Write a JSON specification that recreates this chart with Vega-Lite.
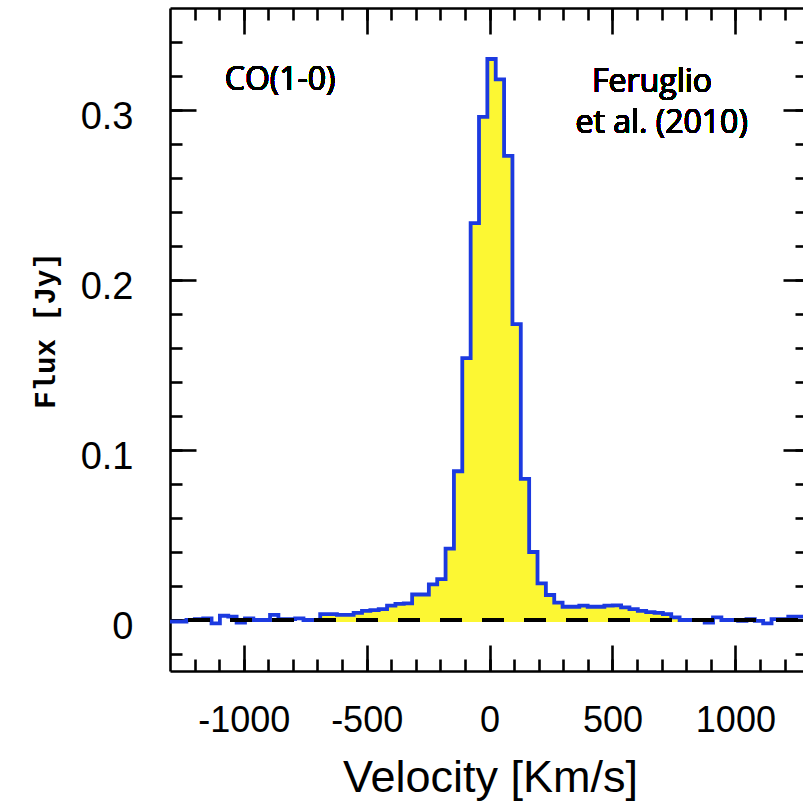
{
  "$schema": "https://vega.github.io/schema/vega-lite/v6.json",
  "autosize": {"type": "none"},
  "padding": {"left": 170, "top": 8, "right": 0, "bottom": 137},
  "width": 633,
  "height": 663,
  "background": "white",
  "config": {
    "view": {"stroke": null},
    "axis": {
      "grid": false,
      "domainColor": "black",
      "domainWidth": 2.6,
      "tickColor": "black",
      "tickWidth": 2.6,
      "labelColor": "black",
      "titleColor": "black",
      "labelFont": "Liberation Sans",
      "labelFontSize": 36,
      "labelFontWeight": "normal",
      "titleFontWeight": "normal"
    }
  },
  "data": {
    "values": [
      {"v": -1335, "f": -0.001}, {"v": -1301, "f": -0.001}, {"v": -1267, "f": -0.001},
      {"v": -1233, "f": 0.0}, {"v": -1199, "f": 0.0005}, {"v": -1165, "f": 0.001},
      {"v": -1131, "f": -0.002}, {"v": -1097, "f": 0.0025}, {"v": -1063, "f": 0.002},
      {"v": -1029, "f": -0.0015}, {"v": -995, "f": 0.001}, {"v": -961, "f": 0.0},
      {"v": -927, "f": 0.0}, {"v": -893, "f": 0.003}, {"v": -859, "f": 0.0005},
      {"v": -825, "f": 0.0005}, {"v": -791, "f": 0.001}, {"v": -757, "f": 0.0},
      {"v": -723, "f": 0.0}, {"v": -689, "f": 0.0035}, {"v": -655, "f": 0.0035},
      {"v": -621, "f": 0.003}, {"v": -587, "f": 0.003}, {"v": -553, "f": 0.0042},
      {"v": -519, "f": 0.0054}, {"v": -485, "f": 0.0058}, {"v": -451, "f": 0.0064},
      {"v": -417, "f": 0.0084}, {"v": -383, "f": 0.0095}, {"v": -349, "f": 0.0098},
      {"v": -315, "f": 0.015}, {"v": -281, "f": 0.015}, {"v": -247, "f": 0.021},
      {"v": -213, "f": 0.024}, {"v": -179, "f": 0.042}, {"v": -145, "f": 0.0875},
      {"v": -111, "f": 0.154}, {"v": -77, "f": 0.2335}, {"v": -43, "f": 0.296},
      {"v": -9, "f": 0.33}, {"v": 25, "f": 0.318}, {"v": 59, "f": 0.273},
      {"v": 93, "f": 0.174}, {"v": 127, "f": 0.083}, {"v": 161, "f": 0.04},
      {"v": 195, "f": 0.0215}, {"v": 229, "f": 0.0147}, {"v": 263, "f": 0.0102},
      {"v": 297, "f": 0.0078}, {"v": 331, "f": 0.0078}, {"v": 365, "f": 0.0084},
      {"v": 399, "f": 0.0078}, {"v": 433, "f": 0.0078}, {"v": 467, "f": 0.0084},
      {"v": 501, "f": 0.0086}, {"v": 535, "f": 0.0074}, {"v": 569, "f": 0.0064},
      {"v": 603, "f": 0.0054}, {"v": 637, "f": 0.0046}, {"v": 671, "f": 0.0042},
      {"v": 705, "f": 0.0035}, {"v": 739, "f": 0.0015}, {"v": 773, "f": 0.0},
      {"v": 807, "f": 0.0}, {"v": 841, "f": 0.0}, {"v": 875, "f": -0.0015},
      {"v": 909, "f": 0.0015}, {"v": 943, "f": 0.0}, {"v": 977, "f": 0.0},
      {"v": 1011, "f": -0.0005}, {"v": 1045, "f": 0.0005}, {"v": 1079, "f": -0.0005},
      {"v": 1113, "f": -0.002}, {"v": 1147, "f": 0.0005}, {"v": 1181, "f": 0.0005},
      {"v": 1215, "f": 0.002}, {"v": 1249, "f": 0.002}, {"v": 1283, "f": 0.002}
    ]
  },
  "resolve": {"axis": {"x": "independent", "y": "independent"}},
  "layer": [
    {
      "transform": [{"filter": "datum.v >= -689 && datum.v <= 773"}],
      "mark": {"type": "area", "interpolate": "step-after", "color": "#fcf733", "clip": true},
      "encoding": {
        "x": {
          "field": "v", "type": "quantitative",
          "scale": {"domain": [-1300, 1275], "nice": false, "zero": false},
          "axis": {
            "orient": "bottom", "values": [-1000, -500, 0, 500, 1000],
            "labelExpr": "datum.value + ''",
            "ticks": false, "domain": true, "labels": true,
            "labelBaseline": "middle", "labelPadding": 49, "labelFlush": false,
            "title": "Velocity [Km/s]", "titleFont": "Liberation Sans", "titleFontSize": 45,
            "titleX": 320, "titleY": 106, "titleBaseline": "middle", "titleAlign": "center"
          }
        },
        "y": {
          "field": "f", "type": "quantitative",
          "scale": {"domain": [-0.03, 0.36], "nice": false, "zero": false},
          "axis": {
            "orient": "left", "values": [0, 0.1, 0.2, 0.3],
            "labelExpr": "datum.value === 0 ? '0' : format(datum.value, '.1f')",
            "labelFontSize": 38,
            "ticks": false, "domain": true, "labels": true,
            "labelBaseline": "middle", "labelPadding": 37, "labelOffset": 7, "labelFlush": false,
            "title": "Flux [Jy]", "titleFont": "Liberation Mono", "titleFontSize": 29, "titleFontWeight": "bold",
            "titleAngle": 270, "titleX": -125, "titleY": 322,
            "titleBaseline": "middle", "titleAlign": "center"
          }
        },
        "y2": {"datum": -0.0012}
      }
    },
    {
      "mark": {"type": "line", "interpolate": "step-after", "color": "#1c3ae0", "strokeWidth": 3.8, "clip": true},
      "encoding": {
        "x": {
          "field": "v", "type": "quantitative",
          "scale": {"domain": [-1300, 1275], "nice": false, "zero": false},
          "axis": {"orient": "bottom", "values": [-1000, -500, 0, 500, 1000], "tickSize": -26,
                   "labels": false, "domain": false, "title": null}
        },
        "y": {
          "field": "f", "type": "quantitative",
          "scale": {"domain": [-0.03, 0.36], "nice": false, "zero": false},
          "axis": {"orient": "left", "values": [0, 0.1, 0.2, 0.3], "tickSize": -26,
                   "labels": false, "domain": false, "title": null}
        }
      }
    },
    {
      "mark": {"type": "rule", "color": "black", "strokeWidth": 3, "strokeDash": [22, 20], "strokeDashOffset": 37},
      "encoding": {
        "y": {"datum": 0, "type": "quantitative", "scale": {"domain": [-0.03, 0.36], "nice": false, "zero": false}, "axis": null}
      }
    },
    {
      "mark": {"type": "text", "font": "Open Sans", "fontSize": 32, "color": "black", "align": "center", "baseline": "middle"},
      "encoding": {
        "text": {"value": "CO(1-0)"},
        "x": {
          "datum": -852, "type": "quantitative",
          "scale": {"domain": [-1300, 1275], "nice": false, "zero": false},
          "axis": {"orient": "bottom", "values": [-1200, -1100, -1000, -900, -800, -700, -600, -500, -400, -300, -200, -100, 0, 100, 200, 300, 400, 500, 600, 700, 800, 900, 1000, 1100, 1200],
                   "tickSize": -12, "labels": false, "domain": false, "title": null}
        },
        "y": {
          "datum": 0.3174, "type": "quantitative",
          "scale": {"domain": [-0.03, 0.36], "nice": false, "zero": false},
          "axis": {"orient": "left", "values": [-0.02, 0, 0.02, 0.04, 0.06, 0.08, 0.1, 0.12, 0.14, 0.16, 0.18, 0.2, 0.22, 0.24, 0.26, 0.28, 0.3, 0.32, 0.34],
                   "tickSize": -12, "labels": false, "domain": false, "title": null}
        }
      }
    },
    {
      "mark": {"type": "text", "font": "Open Sans", "fontSize": 32, "color": "black", "align": "center", "baseline": "middle"},
      "encoding": {
        "text": {"value": "Feruglio"},
        "x": {
          "datum": 661, "type": "quantitative",
          "scale": {"domain": [-1300, 1275], "nice": false, "zero": false},
          "axis": {"orient": "top", "values": [-1000, -500, 0, 500, 1000], "tickSize": -26,
                   "labels": false, "domain": true, "title": null}
        },
        "y": {
          "datum": 0.3162, "type": "quantitative",
          "scale": {"domain": [-0.03, 0.36], "nice": false, "zero": false},
          "axis": {"orient": "right", "values": [0, 0.1, 0.2, 0.3], "tickSize": -20,
                   "labels": false, "domain": false, "title": null}
        }
      }
    },
    {
      "mark": {"type": "text", "font": "Open Sans", "fontSize": 32, "color": "black", "align": "center", "baseline": "middle"},
      "encoding": {
        "text": {"value": "et al. (2010)"},
        "x": {
          "datum": 700, "type": "quantitative",
          "scale": {"domain": [-1300, 1275], "nice": false, "zero": false},
          "axis": {"orient": "top", "values": [-1200, -1100, -1000, -900, -800, -700, -600, -500, -400, -300, -200, -100, 0, 100, 200, 300, 400, 500, 600, 700, 800, 900, 1000, 1100, 1200],
                   "tickSize": -12, "labels": false, "domain": false, "title": null}
        },
        "y": {
          "datum": 0.2926, "type": "quantitative",
          "scale": {"domain": [-0.03, 0.36], "nice": false, "zero": false},
          "axis": {"orient": "right", "values": [-0.02, 0, 0.02, 0.04, 0.06, 0.08, 0.1, 0.12, 0.14, 0.16, 0.18, 0.2, 0.22, 0.24, 0.26, 0.28, 0.3, 0.32, 0.34],
                   "tickSize": -8, "labels": false, "domain": false, "title": null}
        }
      }
    }
  ]
}
